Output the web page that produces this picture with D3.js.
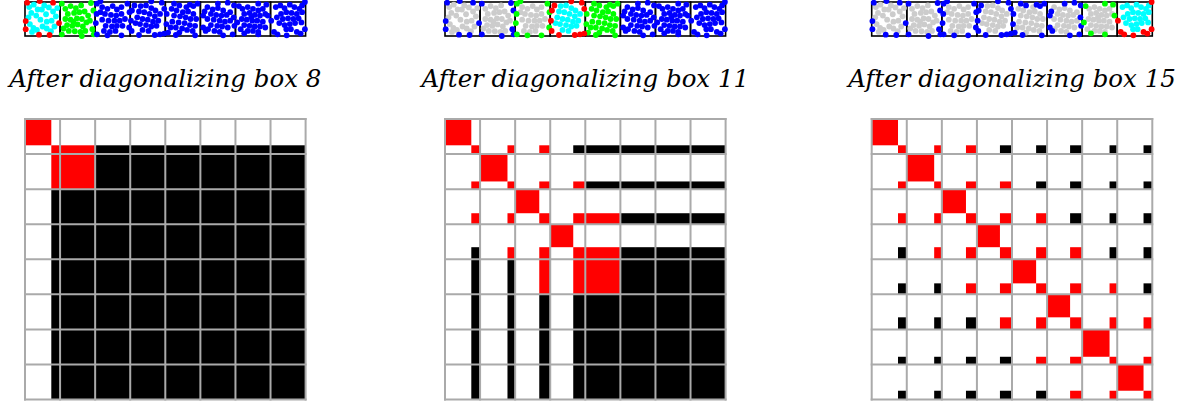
<!DOCTYPE html>
<html>
<head>
<meta charset="utf-8">
<script src="https://cdn.jsdelivr.net/npm/d3@7/dist/d3.min.js"></script>
<style>
  html, body { margin: 0; padding: 0; background: #fff; }
  svg { display: block; }
  .ttl { font-family: "DejaVu Serif", serif; font-style: italic; font-size: 24px; }
</style>
</head>
<body>
<script>
// ---------------- DATA ----------------
const panelTitles = ["After diagonalizing box 8", "After diagonalizing box 11", "After diagonalizing box 15"];
const currentBox = [0, 3, 7];              // leaf box just diagonalized (0-based among the 8 leaves)
const neighborBoxes = [[1], [2, 4], [6]];  // boxes shown in green
const pointsPerBox = 32;
const skeletonCount = [8, 7, 10, 11, 10, 11, 7, 8];

// block pattern among the active index blocks (skeleton of processed boxes, full remaining boxes)
// R = red, B = black, . = white
const pattern8 = ["RRBBBBBB", "RRBBBBBB", "BBBBBBBB", "BBBBBBBB", "BBBBBBBB", "BBBBBBBB", "BBBBBBBB", "BBBBBBBB"];
const pattern11 = ["RRRBBBBB", "RRRRBBBB", "RRRRRBBB", "BRRRRBBB", "BBRRRBBB", "BBBBBBBB", "BBBBBBBB", "BBBBBBBB"];
const pattern15 = ["RRRBBBBB", "RRRRBBBB", "RRRRRBBB", "BRRRRRBB", "BBRRRRRB", "BBBRRRRR", "BBBBRRRR", "BBBBBRRR"];
const patterns = [pattern8, pattern11, pattern15];

// points of each leaf box (local coords 0..1), redundant first then skeleton
const box0Redundant = [[.12,.15],[.25,.08],[.55,.10],[.68,.16],[.80,.28],[.88,.42],[.18,.32],[.10,.45],[.32,.40],[.14,.65],[.24,.76],[.76,.55],[.84,.72],[.62,.78],[.50,.72],[.34,.82],[.48,.22],[.60,.36],[.44,.52],[.62,.58],[.74,.86],[.20,.88],[.92,.18],[.36,.22]];
const box0Skeleton = [[.06,.02],[.42,-.03],[.80,.02],[.02,.56],[.02,.80],[.97,.62],[.40,.96],[.70,.97]];
const box1Redundant = [[.15,.20],[.30,.12],[.45,.18],[.60,.10],[.22,.35],[.40,.32],[.55,.30],[.70,.28],[.80,.40],[.15,.50],[.30,.52],[.48,.48],[.62,.50],[.75,.60],[.20,.68],[.35,.70],[.50,.66],[.65,.72],[.85,.55],[.25,.85],[.42,.86],[.58,.88],[.10,.78],[.72,.85],[.38,.58]];
const box1Skeleton = [[.05,.05],[.88,.03],[.95,.25],[.92,.80],[.96,.95],[.62,1.0],[.05,.95]];
const box2Redundant = [[.20,.15],[.35,.20],[.50,.12],[.62,.22],[.75,.15],[.28,.35],[.45,.38],[.60,.40],[.75,.35],[.20,.52],[.38,.55],[.55,.55],[.70,.55],[.30,.70],[.48,.72],[.62,.70],[.78,.70],[.25,.85],[.42,.88],[.58,.85],[.15,.30],[.85,.50]];
const box2Skeleton = [[.05,.05],[.15,-.02],[.92,.05],[.98,.30],[.04,.35],[.02,.62],[.05,.95],[.35,.98],[.75,.98],[.97,.75]];
const box3Redundant = [[.30,.12],[.45,.10],[.60,.18],[.72,.25],[.25,.28],[.40,.30],[.55,.35],[.70,.42],[.20,.45],[.35,.50],[.50,.52],[.65,.58],[.80,.55],[.28,.65],[.45,.68],[.60,.72],[.75,.70],[.35,.82],[.52,.85],[.85,.35],[.15,.62]];
const box3Skeleton = [[.05,.25],[.12,.10],[.60,-.02],[.90,.02],[.97,.20],[.02,.55],[.04,.85],[.25,.97],[.70,.97],[.85,.95],[.97,.93]];
const box4Redundant = [[.18,.20],[.32,.25],[.50,.30],[.65,.28],[.80,.35],[.25,.40],[.42,.42],[.58,.45],[.72,.50],[.88,.50],[.20,.58],[.38,.60],[.55,.62],[.70,.68],[.85,.70],[.30,.75],[.48,.78],[.62,.82],[.78,.85],[.40,.90],[.15,.75],[.60,.15]];
const box4Skeleton = [[.25,.05],[.40,.10],[.70,.08],[.80,.12],[.92,.05],[.04,.35],[.03,.65],[.08,.90],[.30,.97],[.85,.98]];
const box5Redundant = [[.20,.15],[.35,.22],[.50,.18],[.65,.25],[.30,.35],[.45,.38],[.60,.40],[.75,.38],[.20,.50],[.38,.52],[.55,.55],[.70,.58],[.85,.55],[.30,.68],[.48,.70],[.62,.72],[.78,.75],[.40,.85],[.55,.88],[.22,.80],[.85,.30]];
const box5Skeleton = [[.08,.40],[.12,.28],[.50,.05],[.78,.02],[.96,.10],[.95,.45],[.97,.70],[.08,.75],[.15,.85],[.65,.98],[.92,.95]];
const box6Redundant = [[.20,.20],[.35,.15],[.50,.20],[.65,.25],[.78,.20],[.25,.35],[.40,.32],[.55,.38],[.70,.40],[.85,.35],[.18,.50],[.32,.52],[.48,.55],[.62,.55],[.78,.58],[.25,.68],[.40,.70],[.55,.72],[.70,.72],[.85,.75],[.35,.85],[.50,.85],[.65,.88],[.15,.80],[.45,.45]];
const box6Skeleton = [[.10,.12],[.65,.05],[.88,.08],[.92,.40],[.05,.60],[.25,.92],[.65,.95]];
const box7Redundant = [[.15,.15],[.28,.10],[.40,.18],[.55,.08],[.68,.15],[.82,.20],[.90,.30],[.75,.35],[.60,.32],[.45,.30],[.30,.35],[.18,.45],[.35,.50],[.50,.48],[.65,.50],[.80,.48],[.88,.60],[.70,.62],[.55,.65],[.40,.68],[.25,.62],[.58,.80],[.45,.80],[.90,.10]];
const box7Skeleton = [[.02,.55],[.10,.88],[.20,.95],[.46,.98],[.75,.88],[.86,.93],[.98,.80],[.98,.0]];

const boxRedundant = [box0Redundant, box1Redundant, box2Redundant, box3Redundant, box4Redundant, box5Redundant, box6Redundant, box7Redundant];
const boxSkeleton = [box0Skeleton, box1Skeleton, box2Skeleton, box3Skeleton, box4Skeleton, box5Skeleton, box6Skeleton, box7Skeleton];

// ---------------- LAYOUT ----------------
const W = 1188, H = 402;
const panelX = [25, 445, 871.7];
const gridW = 280.6;
const stripTop = 2, stripH = 34;
const gridTop = 119, gridBottom = 399.5;
const nBoxes = 8, N = nBoxes * pointsPerBox;
const COL = { R: "#ff0000", B: "#000000", C: "#00ffff", G: "#00ff00", U: "#0000ff", Y: "#cccccc" };

const svg = d3.select("body").append("svg").attr("width", W).attr("height", H);
svg.append("rect").attr("width", W).attr("height", H).attr("fill", "#fff");

panelTitles.forEach((title, p) => {
  const cur = currentBox[p];
  const nb = neighborBoxes[p];
  const pat = patterns[p];
  const x = d3.scaleLinear().domain([0, N]).range([panelX[p], panelX[p] + gridW]);
  const y = d3.scaleLinear().domain([0, N]).range([gridTop, gridBottom]);
  const g = svg.append("g");

  // ---- strip of boxes with points ----
  const bw = x(pointsPerBox) - x(0);
  const strip = g.append("g");
  strip.selectAll("rect.box").data(d3.range(nBoxes)).join("rect")
    .attr("x", i => x(i * pointsPerBox)).attr("y", stripTop)
    .attr("width", bw).attr("height", stripH)
    .attr("fill", "none").attr("stroke", "#000").attr("stroke-width", 1.6);

  const pts = [];
  for (let i = 0; i < nBoxes; i++) {
    const processed = i <= cur;
    const isNb = nb.includes(i);
    boxRedundant[i].forEach(([u, v]) => {
      let c;
      if (i === cur) c = COL.C;
      else if (processed) c = COL.Y;
      else c = isNb ? COL.G : COL.U;
      pts.push({ i, u, v, c, order: 0 });
    });
    boxSkeleton[i].forEach(([u, v]) => {
      let c;
      if (i === cur) c = COL.R;
      else if (isNb) c = COL.G;
      else c = COL.U;
      pts.push({ i, u, v, c, order: processed ? 1 : 0 });
    });
  }
  pts.sort((a, b) => a.order - b.order);
  strip.selectAll("circle").data(pts).join("circle")
    .attr("cx", d => x(d.i * pointsPerBox) + d.u * bw)
    .attr("cy", d => stripTop + d.v * stripH)
    .attr("r", 2.9)
    .attr("fill", d => d.c);

  // ---- title ----
  g.append("text")
    .attr("class", "ttl")
    .attr("x", panelX[p] + gridW / 2).attr("y", 87)
    .attr("text-anchor", "middle")
    .attr("fill", "#000")
    .text(title);

  // ---- matrix ----
  const m = g.append("g");
  m.append("rect").attr("x", x(0)).attr("y", y(0)).attr("width", x(N) - x(0)).attr("height", y(N) - y(0)).attr("fill", "#fff");
  const segs = d3.range(nBoxes).map(i => {
    const s0 = i * pointsPerBox, s1 = s0 + pointsPerBox;
    if (i <= cur) return { red: [s0, s1 - skeletonCount[i]], act: [s1 - skeletonCount[i], s1] };
    return { red: null, act: [s0, s1] };
  });
  const blocks = [];
  segs.forEach(s => { if (s.red) blocks.push({ r: s.red, c: s.red, col: COL.R }); });
  segs.forEach((si, i) => segs.forEach((sj, j) => {
    const ch = pat[i][j];
    if (ch === ".") return;
    blocks.push({ r: si.act, c: sj.act, col: COL[ch] });
  }));
  m.selectAll("rect.blk").data(blocks).join("rect")
    .attr("x", d => x(d.c[0])).attr("y", d => y(d.r[0]))
    .attr("width", d => x(d.c[1]) - x(d.c[0]))
    .attr("height", d => y(d.r[1]) - y(d.r[0]))
    .attr("fill", d => d.col);
  const ticks = d3.range(nBoxes + 1).map(k => k * pointsPerBox);
  m.selectAll("line.v").data(ticks).join("line")
    .attr("x1", d => x(d)).attr("x2", d => x(d)).attr("y1", y(0)).attr("y2", y(N))
    .attr("stroke", "#aaaaaa").attr("stroke-width", 2).attr("stroke-linecap", "square");
  m.selectAll("line.h").data(ticks).join("line")
    .attr("y1", d => y(d)).attr("y2", d => y(d)).attr("x1", x(0)).attr("x2", x(N))
    .attr("stroke", "#aaaaaa").attr("stroke-width", 2).attr("stroke-linecap", "square");
});

// stretch titles to the width of the original serif text (same factor for all)
const titles = svg.selectAll("text.ttl").nodes();
const natural = titles.map(n => n.getComputedTextLength());
const k = 312 / natural[0];
titles.forEach((n, i) => {
  d3.select(n).attr("textLength", natural[i] * k).attr("lengthAdjust", "spacingAndGlyphs");
});
</script>
</body>
</html>
